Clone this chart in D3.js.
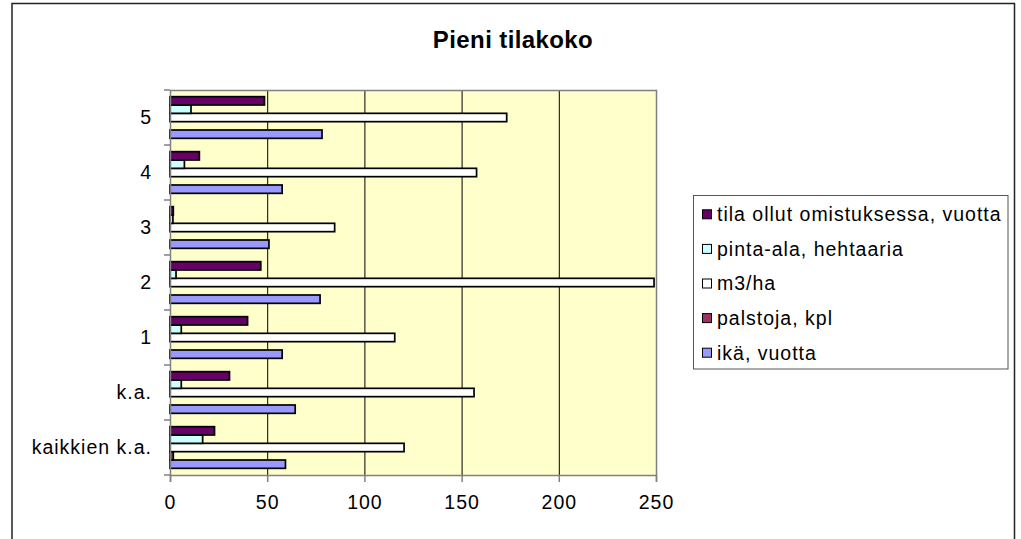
<!DOCTYPE html>
<html>
<head>
<meta charset="utf-8">
<script src="https://cdn.jsdelivr.net/npm/d3@7"></script>
<style>
  html, body { margin: 0; padding: 0; background: #fff; }
  svg { display: block; font-family: "Liberation Sans", Arial, sans-serif; }
  .lbl { font-size: 19.5px; letter-spacing: 1px; fill: #000; }
</style>
</head>
<body>
<svg id="chart" width="1021" height="539"></svg>
<script>
// categories bottom -> top, as in the sheet
var categories = ["kaikkien k.a.", "k.a.", "1", "2", "3", "4", "5"];

// series values, one per category
var ika      = [59.4, 64.4, 57.7, 77.2, 50.9, 57.7, 78.2];
var palstoja = [1.7, null, null, null, null, null, null];
var m3ha     = [120.4, 156.4, 115.6, 249, 84.7, 157.7, 173.2];
var pintaAla = [16.8, 5.8, 5.8, 3.1, 1.5, 7.4, 10.8];
var tila     = [22.9, 30.6, 39.9, 46.7, 1.7, 15.1, 48.6];

var seriesNames = ["ikä, vuotta", "palstoja, kpl", "m3/ha", "pinta-ala, hehtaaria", "tila ollut omistuksessa, vuotta"];
var seriesColors = ["#9999ff", "#993366", "#ffffff", "#ccffff", "#660066"];
var xTicks = [0, 50, 100, 150, 200, 250];

var series = [ika, palstoja, m3ha, pintaAla, tila].map(function(vals, i) {
  return { name: seriesNames[i], color: seriesColors[i], values: vals };
});

var svg = d3.select("#chart");
var plot = { left: 170, right: 656, top: 90, bottom: 475 };

//
// outer frame
svg.append("rect")
  .attr("x", 12).attr("y", 3.5)
  .attr("width", 1002.5).attr("height", 560)
  .attr("fill", "#fff").attr("stroke", "#222").attr("stroke-width", 1.5);

svg.append("text")
  .attr("x", 513).attr("y", 48)
  .attr("text-anchor", "middle")
  .style("font-size", "24px").style("font-weight", "bold").style("letter-spacing", "0.4px")
  .text("Pieni tilakoko");

//
// scales
var x = d3.scaleLinear().domain([0, 250]).range([plot.left, plot.right]);
var y = d3.scaleBand()
  .domain(categories.slice().reverse())
  .range([plot.top, plot.bottom])
  .paddingInner(0);
var inner = d3.scaleBand()
  .domain(d3.range(series.length).reverse())   // last series on top
  .range([0, y.bandwidth()])
  .paddingOuter(0.8);

//
// plot area + grid
svg.append("rect")
  .attr("x", plot.left).attr("y", plot.top)
  .attr("width", plot.right - plot.left).attr("height", plot.bottom - plot.top)
  .attr("fill", "#ffffcc");

svg.append("g").selectAll("line")
  .data(xTicks.slice(1, -1))
  .enter().append("line")
  .attr("x1", function(d) { return x(d) + 0.5; })
  .attr("x2", function(d) { return x(d) + 0.5; })
  .attr("y1", plot.top).attr("y2", plot.bottom)
  .attr("stroke", "#000").attr("stroke-width", 1);

// plot border top/right, gray
svg.append("path")
  .attr("d", "M" + plot.left + "," + (plot.top + 0.5) + "H" + (plot.right + 0.5) + "V" + plot.bottom)
  .attr("fill", "none").attr("stroke", "#808080").attr("stroke-width", 1.5);

//
// bars
var groups = svg.append("g").selectAll("g")
  .data(series)
  .enter().append("g");

groups.selectAll("rect")
  .data(function(s, si) {
    return s.values.map(function(v, ci) { return { v: v, c: categories[ci], si: si, color: s.color }; })
      .filter(function(d) { return d.v != null; });
  })
  .enter().append("rect")
  .attr("x", x(0))
  .attr("y", function(d) { return y(d.c) + inner(d.si); })
  .attr("width", function(d) { return x(d.v) - x(0); })
  .attr("height", inner.bandwidth())
  .attr("fill", function(d) { return d.color; })
  .attr("stroke", "#000").attr("stroke-width", 1.7);

//
// axes
var yAxis = d3.axisLeft(y).tickSize(0).tickPadding(18);
var gy = svg.append("g")
  .attr("transform", "translate(" + plot.left + ",0)")
  .call(yAxis);
gy.select(".domain").attr("stroke", "#808080").attr("stroke-width", 1.5);
gy.selectAll("text").attr("class", "lbl").attr("dy", "0.35em").attr("font-family", null).attr("font-size", null);

// category boundary ticks
var bounds = categories.map(function(c) { return y(c); }).concat([plot.bottom]);
gy.selectAll("line.bnd")
  .data(bounds)
  .enter().append("line")
  .attr("class", "bnd")
  .attr("x1", -6).attr("x2", 0)
  .attr("y1", function(d) { return d; }).attr("y2", function(d) { return d; })
  .attr("stroke", "#808080").attr("stroke-width", 1.5);

var xAxis = d3.axisBottom(x).tickValues(xTicks).tickSize(7).tickPadding(13);
var gx = svg.append("g")
  .attr("transform", "translate(0," + plot.bottom + ")")
  .call(xAxis);
gx.select(".domain").attr("stroke", "#808080").attr("stroke-width", 1.5);
gx.selectAll(".tick line").attr("stroke", "#808080").attr("stroke-width", 1.5);
gx.selectAll("text").attr("class", "lbl").attr("font-family", null).attr("font-size", null);

//
// legend
var legend = svg.append("g");
legend.append("rect")
  .attr("x", 693.5).attr("y", 195.5)
  .attr("width", 314.5).attr("height", 173.5)
  .attr("fill", "#fff").attr("stroke", "#555").attr("stroke-width", 1);

var items = legend.selectAll("g.item")
  .data(series.slice().reverse())
  .enter().append("g")
  .attr("class", "item")
  .attr("transform", function(d, i) { return "translate(702," + (214.3 + i * 34.6) + ")"; });

items.append("rect")
  .attr("x", 0.5).attr("y", -4.5)
  .attr("width", 9).attr("height", 9)
  .attr("fill", function(d) { return d.color; })
  .attr("stroke", "#000").attr("stroke-width", 1);

items.append("text")
  .attr("class", "lbl")
  .attr("x", 15).attr("dy", "0.35em")
  .text(function(d) { return d.name; });
</script>
</body>
</html>
